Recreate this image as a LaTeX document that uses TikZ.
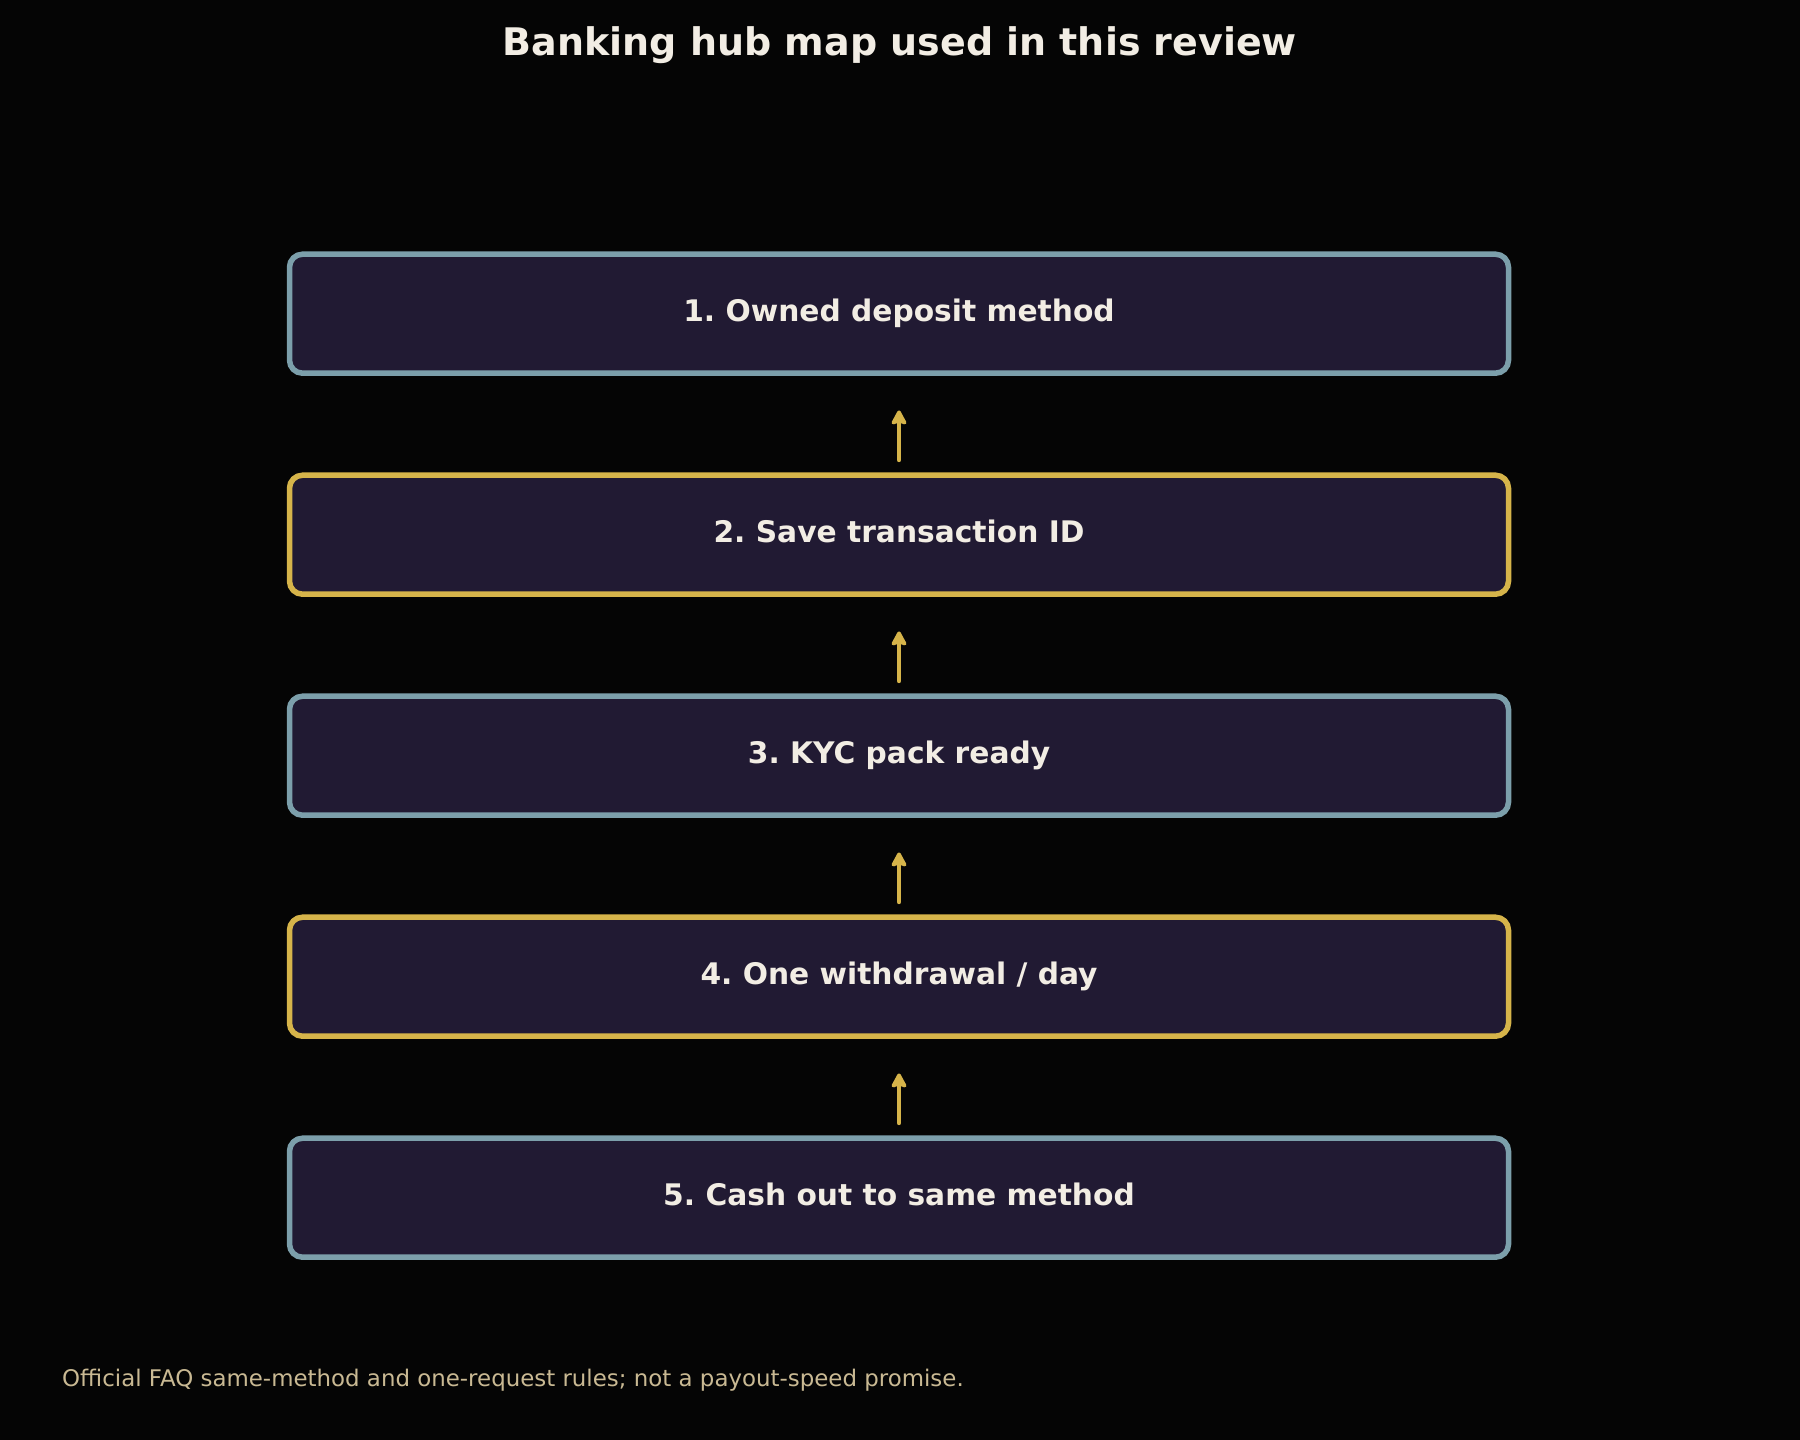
\documentclass[tikz,border=0pt]{standalone}
\usepackage{fontspec}
\setmainfont{DejaVu Sans}
\usetikzlibrary{arrows.meta}
\frenchspacing
\definecolor{bg}{HTML}{050505}
\definecolor{boxfill}{HTML}{211A33}
\definecolor{edgeblue}{HTML}{7C9FAB}
\definecolor{edgegold}{HTML}{D6B44A}
\definecolor{txt}{HTML}{F2EDE4}
\definecolor{foot}{HTML}{C9B993}
\tikzset{
  stepbox/.style={draw, line width=5.5pt, fill=boxfill, rounded corners=13pt,
    minimum width=1219pt, minimum height=119pt, inner sep=0pt},
  bluebox/.style={stepbox, draw=edgeblue},
  goldbox/.style={stepbox, draw=edgegold},
  steplabel/.style={text=txt, font=\bfseries\fontsize{29.7}{36}\selectfont, anchor=base, inner sep=0pt},
  flow/.style={draw=edgegold, line width=4.5pt, line cap=round,
    -{Stealth[length=17pt,width=18pt,inset=3pt,round]}, shorten <=12.5pt, shorten >=34.5pt}
}
\begin{document}
\begin{tikzpicture}[x=1pt,y=1pt]
\fill[bg] (0,0) rectangle (1800,-1440);
\useasboundingbox (0,0) rectangle (1800,-1440);
\node[text=txt, font=\bfseries\fontsize{38}{46}\selectfont, anchor=base, inner sep=0pt] (title) at (900,-55.5) {Banking hub map used in this review};
\foreach \i/\s/\t in {1/bluebox/{1. Owned deposit method},2/goldbox/{2. Save transaction ID},3/bluebox/{3. KYC pack ready},4/goldbox/{4. One withdrawal / day},5/bluebox/{5. Cash out to same method}}{
  \node[\s] (b\i) at (899,{-313.7-221*(\i-1)}) {};
  \node[steplabel] (l\i) at (899,{-321.8-221*(\i-1)}) {\t};
}
\foreach \a/\b in {2/1,3/2,4/3,5/4}{
  \draw[flow] (b\a.north) -- (b\b.south);
}
\node[text=foot, font=\fontsize{22.9}{28}\selectfont, anchor=base west, inner sep=0pt] (footer) at (62,-1386.5) {Official FAQ same-method and one-request rules; not a payout-speed promise.};
\end{tikzpicture}
\end{document}
